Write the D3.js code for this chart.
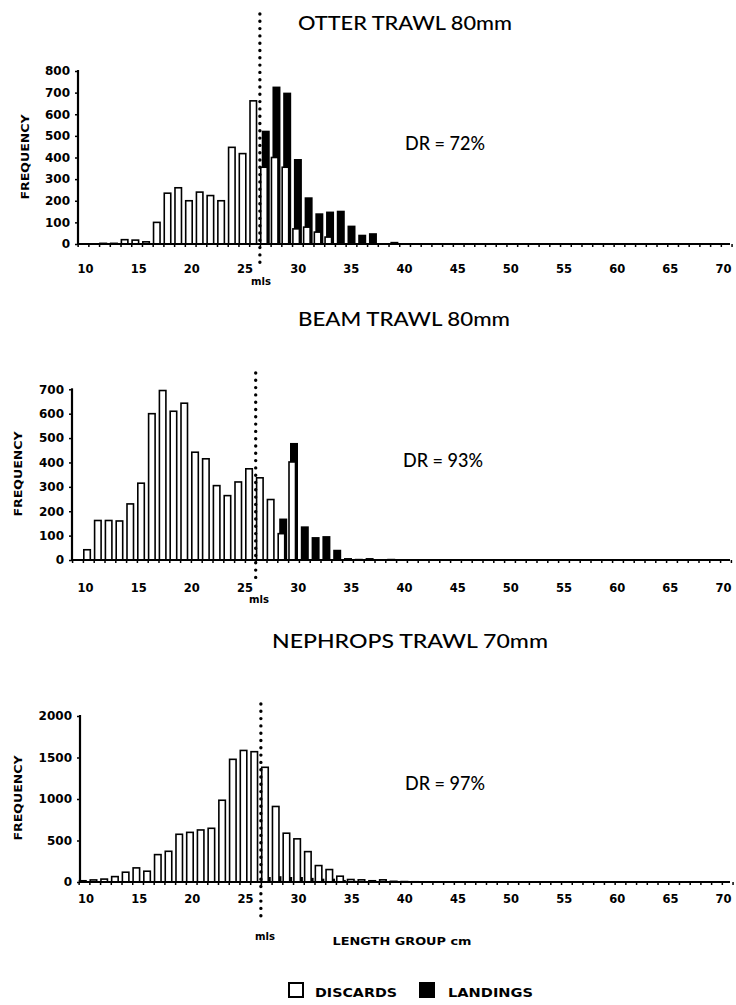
<!DOCTYPE html>
<html><head><meta charset="utf-8">
<script src="https://cdn.jsdelivr.net/npm/d3@7/dist/d3.min.js"></script>
<style>
body{margin:0;background:#fff}
svg{display:block}
</style>
</head><body>
<svg id="fig" width="736" height="1005"></svg>
<script>
// ---------------- DATA ----------------
const xTickLabels = [10,15,20,25,30,35,40,45,50,55,60,65,70];
const mlsLength = 26.5;

// Otter trawl 80mm
const otterLengths   = [12,13,14,15,16,17,18,19,20,21,22,23,24,25,26,27,28,29,30,31,32,33,34,35,36,37,38,39,40,41];
const otterDiscards  = [3,3,20,18,10,100,235,260,200,240,224,200,447,418,662,355,400,355,70,78,55,32,0,0,0,0,0,0,0,0];
const otterLandings  = [0,0,0,0,0,0,0,0,0,0,0,0,0,0,0,524,728,700,393,216,142,150,154,85,43,50,4,10,0,3];
const otterYTicks    = [0,100,200,300,400,500,600,700,800];

// Beam trawl 80mm
const beamLengths    = [11,12,13,14,15,16,17,18,19,20,21,22,23,24,25,26,27,28,29,30,31,32,33,34,35,36,37,38,39];
const beamDiscards   = [42,162,162,160,230,315,600,695,610,643,442,415,305,264,320,374,337,248,108,402,0,0,0,0,0,0,0,0,0];
const beamLandings   = [0,0,0,0,0,0,0,0,0,0,0,0,0,0,0,0,0,0,170,480,138,94,98,42,8,5,8,0,5];
const beamYTicks     = [0,100,200,300,400,500,600,700];

// Nephrops trawl 70mm
const nephLengths    = [10,11,12,13,14,15,16,17,18,19,20,21,22,23,24,25,26,27,28,29,30,31,32,33,34,35,36,37,38,39,40,41];
const nephDiscards   = [15,25,35,65,118,170,130,330,370,575,598,627,647,985,1478,1585,1570,1382,910,588,520,366,198,150,70,30,26,15,26,8,5,3];
const nephLandings   = [0,0,0,0,0,0,0,0,0,0,0,0,0,0,0,0,0,60,70,60,60,50,40,40,25,15,0,0,0,0,0,0];
const nephYTicks     = [0,500,1000,1500,2000];

// ---------------- LAYOUT ----------------
const charts = [
  {title:"OTTER TRAWL 80mm", titleX:405, titleY:30, titleLen:214,
   dr:"DR = 72%", drX:405, drY:150,
   lengths:otterLengths, discards:otterDiscards, landings:otterLandings,
   yTicks:otterYTicks, yMax:800, y0:244, yTop:71, yAxisX:78,
   xStart:83, xStep:10.72, labStart:85, labEnd:723, tickLabelY:273,
   freqX:25, freqY:157, mlsTop:14, mlsBottom:263, mlsLabelX:261, mlsLabelY:285, showLengthLabel:false},
  {title:"BEAM TRAWL 80mm", titleX:404, titleY:326, titleLen:212,
   dr:"DR = 93%", drX:403, drY:467,
   lengths:beamLengths, discards:beamDiscards, landings:beamLandings,
   yTicks:beamYTicks, yMax:700, y0:560, yTop:389.3, yAxisX:72,
   xStart:77.5, xStep:10.8, labStart:85, labEnd:723, tickLabelY:592,
   freqX:18, freqY:474, mlsTop:373, mlsBottom:578, mlsLabelX:259, mlsLabelY:603, showLengthLabel:false},
  {title:"NEPHROPS TRAWL 70mm", titleX:410, titleY:648, titleLen:276,
   dr:"DR = 97%", drX:405, drY:790,
   lengths:nephLengths, discards:nephDiscards, landings:nephLandings,
   yTicks:nephYTicks, yMax:2000, y0:882, yTop:716, yAxisX:80,
   xStart:84, xStep:10.72, labStart:85.5, labEnd:723, tickLabelY:903,
   freqX:18, freqY:798, mlsTop:704, mlsBottom:916, mlsLabelX:265, mlsLabelY:940, showLengthLabel:true}
];

const svg = d3.select("#fig");
svg.append("rect").attr("width",736).attr("height",1005).attr("fill","#fff");

const AXIS_END = 730;

charts.forEach(c => {
  const g = svg.append("g");
  const x = d3.scaleLinear().domain([10,70]).range([c.xStart, c.xStart + 60*c.xStep]);
  const xl = d3.scaleLinear().domain([10,70]).range([c.labStart, c.labEnd]);
  const y = d3.scaleLinear().domain([0,c.yMax]).range([c.y0, c.yTop]);

  // title
  g.append("text").attr("x",c.titleX).attr("y",c.titleY)
    .attr("text-anchor","middle")
    .attr("font-family","Lato, 'DejaVu Sans', sans-serif").attr("font-size",20).attr("font-weight",500)
    .attr("textLength",c.titleLen).attr("lengthAdjust","spacingAndGlyphs")
    .text(c.title);

  // bars : landings (black) behind, discards (white) in front
  const data = c.lengths.map((L,i)=>({L, d:c.discards[i], l:c.landings[i]}));
  g.append("g").selectAll("rect").data(data.filter(d=>d.l>0)).join("rect")
    .attr("x", d=>x(d.L)-3.5).attr("width",8)
    .attr("y", d=>y(d.l)).attr("height", d=>c.y0-y(d.l))
    .attr("fill","#000");
  g.append("g").selectAll("rect").data(data.filter(d=>d.d>0)).join("rect")
    .attr("x", d=>x(d.L)-4.5).attr("width",6.5)
    .attr("y", d=>y(d.d)).attr("height", d=>c.y0-y(d.d))
    .attr("fill","#fff").attr("stroke","#000").attr("stroke-width",1.6);

  // y axis
  const yAxis = d3.axisLeft(y).tickValues(c.yTicks).tickSize(3).tickPadding(5).tickFormat(d3.format("d"));
  const ya = g.append("g").attr("transform",`translate(${c.yAxisX},0)`).call(yAxis);
  ya.select(".domain").remove();
  ya.selectAll(".tick line").attr("stroke","#000").attr("stroke-width",1.5);
  ya.selectAll(".tick text").attr("font-family","'DejaVu Sans', sans-serif")
    .attr("font-weight","bold").attr("font-size",12).attr("fill","#000");
  g.append("line").attr("x1",c.yAxisX).attr("x2",c.yAxisX)
    .attr("y1",c.yTop-1).attr("y2",c.y0+1).attr("stroke","#000").attr("stroke-width",2.2);

  // x axis minor ticks at category boundaries
  const bounds = d3.range(9.5, 70.6, 1);
  const xMinor = d3.axisBottom(x).tickValues(bounds).tickSize(3).tickFormat("");
  const xm = g.append("g").attr("transform",`translate(0,${c.y0})`).call(xMinor);
  xm.select(".domain").remove();
  xm.selectAll(".tick line").attr("stroke","#000").attr("stroke-width",1.5);
  g.append("line").attr("x1",c.yAxisX-1).attr("x2",AXIS_END)
    .attr("y1",c.y0).attr("y2",c.y0).attr("stroke","#000").attr("stroke-width",2.2);

  // x tick labels
  const xLab = d3.axisBottom(xl).tickValues(xTickLabels).tickSize(0).tickPadding(0);
  const xa = g.append("g").call(xLab);
  xa.select(".domain").remove();
  xa.selectAll(".tick text").attr("y",c.tickLabelY).attr("dy",null)
    .attr("font-family","'DejaVu Sans', sans-serif").attr("font-weight","bold")
    .attr("font-size",11.5).attr("fill","#000");

  // FREQUENCY label
  g.append("text").attr("transform",`translate(${c.freqX},${c.freqY}) rotate(-90)`)
    .attr("text-anchor","middle").attr("dominant-baseline","central")
    .attr("font-family","'DejaVu Sans', sans-serif").attr("font-weight","bold").attr("font-size",11)
    .attr("textLength",85).attr("lengthAdjust","spacingAndGlyphs")
    .text("FREQUENCY");

  // mls dotted line
  g.append("line").attr("x1",x(mlsLength)).attr("x2",x(mlsLength))
    .attr("y1",c.mlsTop).attr("y2",c.mlsBottom)
    .attr("stroke","#000").attr("stroke-width",3.4).attr("stroke-linecap","round")
    .attr("stroke-dasharray","0,7.3");
  g.append("text").attr("x",c.mlsLabelX).attr("y",c.mlsLabelY).attr("text-anchor","middle")
    .attr("font-family","'DejaVu Sans', sans-serif").attr("font-weight","bold").attr("font-size",11)
    .attr("textLength",20).attr("lengthAdjust","spacingAndGlyphs")
    .text("mls");

  // DR text
  g.append("text").attr("x",c.drX).attr("y",c.drY)
    .attr("font-family","Lato, 'DejaVu Sans', sans-serif").attr("font-size",19).attr("font-weight",500)
    .attr("textLength",80).attr("lengthAdjust","spacingAndGlyphs")
    .text(c.dr);

  if (c.showLengthLabel) {
    g.append("text").attr("x",402).attr("y",945).attr("text-anchor","middle")
      .attr("font-family","'DejaVu Sans', sans-serif").attr("font-weight","bold").attr("font-size",11)
      .attr("textLength",139).attr("lengthAdjust","spacingAndGlyphs")
      .text("LENGTH GROUP cm");
  }
});

// legend
const legendItems = [
  {label:"DISCARDS", fill:"#fff", bx:289, tx:315, tlen:82},
  {label:"LANDINGS", fill:"#000", bx:420, tx:448, tlen:85}
];
const lg = svg.append("g");
legendItems.forEach(it=>{
  lg.append("rect").attr("x",it.bx).attr("y",983).attr("width",14).attr("height",14)
    .attr("fill",it.fill).attr("stroke","#000").attr("stroke-width",2);
  lg.append("text").attr("x",it.tx).attr("y",997)
    .attr("font-family","'DejaVu Sans', sans-serif").attr("font-weight","bold").attr("font-size",13)
    .attr("textLength",it.tlen).attr("lengthAdjust","spacingAndGlyphs")
    .text(it.label);
});
</script>
</body></html>
